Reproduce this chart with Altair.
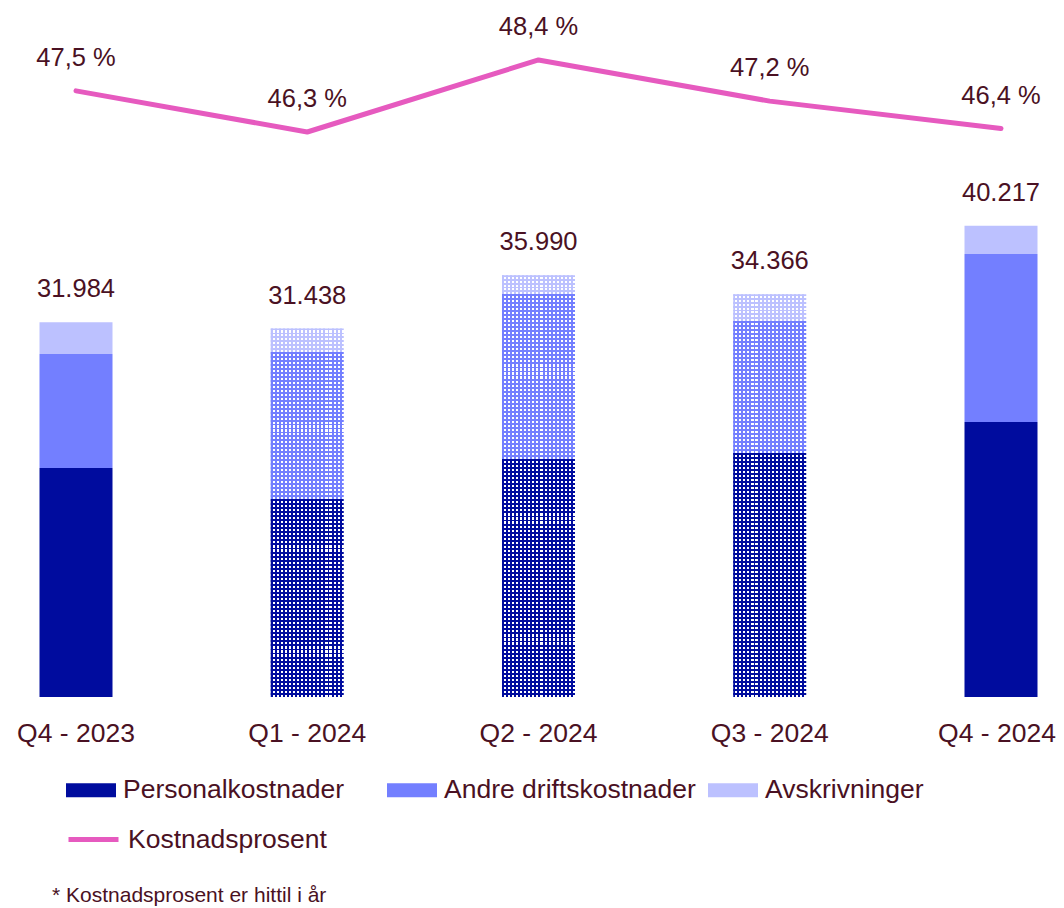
import altair as alt
import pandas as pd

# ---------------- data ----------------
quarters = ["Q4 - 2023", "Q1 - 2024", "Q2 - 2024", "Q3 - 2024", "Q4 - 2024"]
personal = [19539, 16894, 20307, 20819, 23464]
andre = [9727, 12543, 14079, 11263, 14335]
avskr = [2718, 2001, 1604, 2284, 2418]
totals = [31984, 31438, 35990, 34366, 40217]
kostpct = [47.5, 46.3, 48.4, 47.2, 46.4]
patterned = [False, True, True, True, False]
categories = ["Personalkostnader", "Andre driftskostnader", "Avskrivninger"]
cat_colors = ["#000C9E", "#737FFF", "#BCC1FF"]
line_name = "Kostnadsprosent"
line_color = "#E65ABF"
footnote = "* Kostnadsprosent er hittil i år"

TEXT = "#4A1123"
FONT = "Liberation Sans"
W, H = 1048, 689
YMAX = 58800
PCT_DOMAIN = [29.823, 49.916]

# ---------------- tables ----------------
rows = []
for i, q in enumerate(quarters):
    base = 0
    for c, vals in zip(categories, [personal, andre, avskr]):
        v = vals[i]
        rows.append({"quarter": q, "category": c, "value": v, "y0": base,
                     "y1": base + v, "pattern": patterned[i]})
        base += v
bars = pd.DataFrame(rows)

tot = pd.DataFrame({"quarter": quarters, "total": totals,
                    "label": [f"{t:,}".replace(",", ".") for t in totals]})
line = pd.DataFrame({"quarter": quarters, "pct": kostpct, "serie": line_name,
                     "label": [f"{p:.1f}".replace(".", ",") + " %" for p in kostpct]})

# ---------------- scales / axes ----------------
xscale = alt.Scale(domain=quarters, paddingInner=0.6843, paddingOuter=0.1081, align=0.63)
xaxis = alt.Axis(title=None, labelAngle=0, labelFontSize=26.5, labelFont=FONT,
                 labelColor=TEXT, domain=False, ticks=False, grid=False, labelPadding=23,
                 labelBound=False, labelOverlap=False,
                 labelOffset={"condition": {"test": f"datum.value === '{quarters[-1]}'",
                                            "value": -4}, "value": 0})
X = alt.X("quarter:N", sort=quarters, scale=xscale, axis=xaxis, title=None)
yscale = alt.Scale(domain=[0, YMAX], nice=False, zero=True)

base_bars = alt.Chart(bars).mark_bar().encode(
    x=X,
    y=alt.Y("y0:Q", scale=yscale, axis=None),
    y2="y1:Q",
    color=alt.condition(
        "datum.pattern",
        alt.value("white"),
        alt.Color("category:N",
                  scale=alt.Scale(domain=categories, range=cat_colors),
                  legend=alt.Legend(title=None, orient="none", legendX=58, legendY=757,
                                    columns=3, gridAlign="all", columnPadding=12,
                                    symbolType="M-1,-0.28H1V0.28H-1Z", symbolSize=2500,
                                    symbolStrokeWidth=0, symbolOpacity=1,
                                    labelFontSize=26.5, labelFont=FONT, labelColor=TEXT,
                                    labelOffset=7, labelLimit=500, padding=0)),
    ),
)

# dotted pattern = coloured horizontal lines + coloured vertical lines over white
PERIOD = 4.0
FRAC = 0.48
CLEAR = "rgba(255,255,255,0)"


def stripe_gradient(color, n, horizontal):
    stops = []
    for i in range(n):
        a = round(i / n, 6)
        b = round((i + FRAC) / n, 6)
        c = round((i + 1) / n, 6)
        stops += [{"offset": a, "color": color}, {"offset": b, "color": color},
                  {"offset": b, "color": CLEAR}, {"offset": c, "color": CLEAR}]
    return {"gradient": "linear", "stops": stops, "x1": 0, "y1": 0,
            "x2": 0 if horizontal else 1, "y2": 1 if horizontal else 0}


px_per_unit = H / YMAX
pattern_layers = []
pat_rows = bars[bars["pattern"]]
for _, r in pat_rows.iterrows():
    col = cat_colors[categories.index(r["category"])]
    n = max(1, round(r["value"] * px_per_unit / PERIOD))
    sub = pat_rows[(pat_rows["quarter"] == r["quarter"]) & (pat_rows["category"] == r["category"])]
    pattern_layers.append(
        alt.Chart(sub).mark_bar(color=stripe_gradient(col, n, True)).encode(
            x=X, y=alt.Y("y0:Q", scale=yscale, axis=None), y2="y1:Q"))
bandwidth_px = 73
nv = round(bandwidth_px / PERIOD)
for c, col in zip(categories, cat_colors):
    sub = pat_rows[pat_rows["category"] == c]
    pattern_layers.append(
        alt.Chart(sub).mark_bar(color=stripe_gradient(col, nv, False)).encode(
            x=X, y=alt.Y("y0:Q", scale=yscale, axis=None), y2="y1:Q"))

bar_labels = alt.Chart(tot).mark_text(dy=-33, baseline="middle", align="center",
                                      fontSize=25.5, font=FONT, color=TEXT).encode(
    x=X, y=alt.Y("total:Q", scale=yscale, axis=None), text="label:N")

pscale = alt.Scale(domain=PCT_DOMAIN, nice=False, zero=False)
line_mark = alt.Chart(line).mark_line(strokeWidth=5, strokeCap="round", strokeJoin="round").encode(
    x=X,
    y=alt.Y("pct:Q", scale=pscale, axis=None),
    stroke=alt.Stroke("serie:N", scale=alt.Scale(domain=[line_name], range=[line_color]),
                      legend=alt.Legend(title=None, orient="none", legendX=58, legendY=804,
                                        symbolType="stroke", symbolSize=2500,
                                        symbolStrokeWidth=5, labelFontSize=26.5,
                                        labelFont=FONT, labelColor=TEXT, labelOffset=7,
                                        labelLimit=500, padding=0)),
)
line_labels = alt.Chart(line).mark_text(dy=-33, baseline="middle", align="center",
                                        fontSize=25.5, font=FONT, color=TEXT).encode(
    x=X, y=alt.Y("pct:Q", scale=pscale, axis=None), text="label:N")

note = alt.Chart(pd.DataFrame({"t": [footnote]})).mark_text(
    align="left", baseline="middle", fontSize=21, font=FONT, color=TEXT).encode(
    x=alt.value(44), y=alt.value(888), text="t:N")

chart = alt.layer(base_bars, *pattern_layers, bar_labels, line_mark, line_labels, note).resolve_scale(
    y="independent").properties(
    width=W, height=H,
    autosize=alt.AutoSizeParams(type="none"),
    padding={"left": 0, "top": 0, "right": 0, "bottom": 214},
).configure_view(stroke=None)

chart.save("out.html", embed_options={"renderer": "svg", "actions": False})
